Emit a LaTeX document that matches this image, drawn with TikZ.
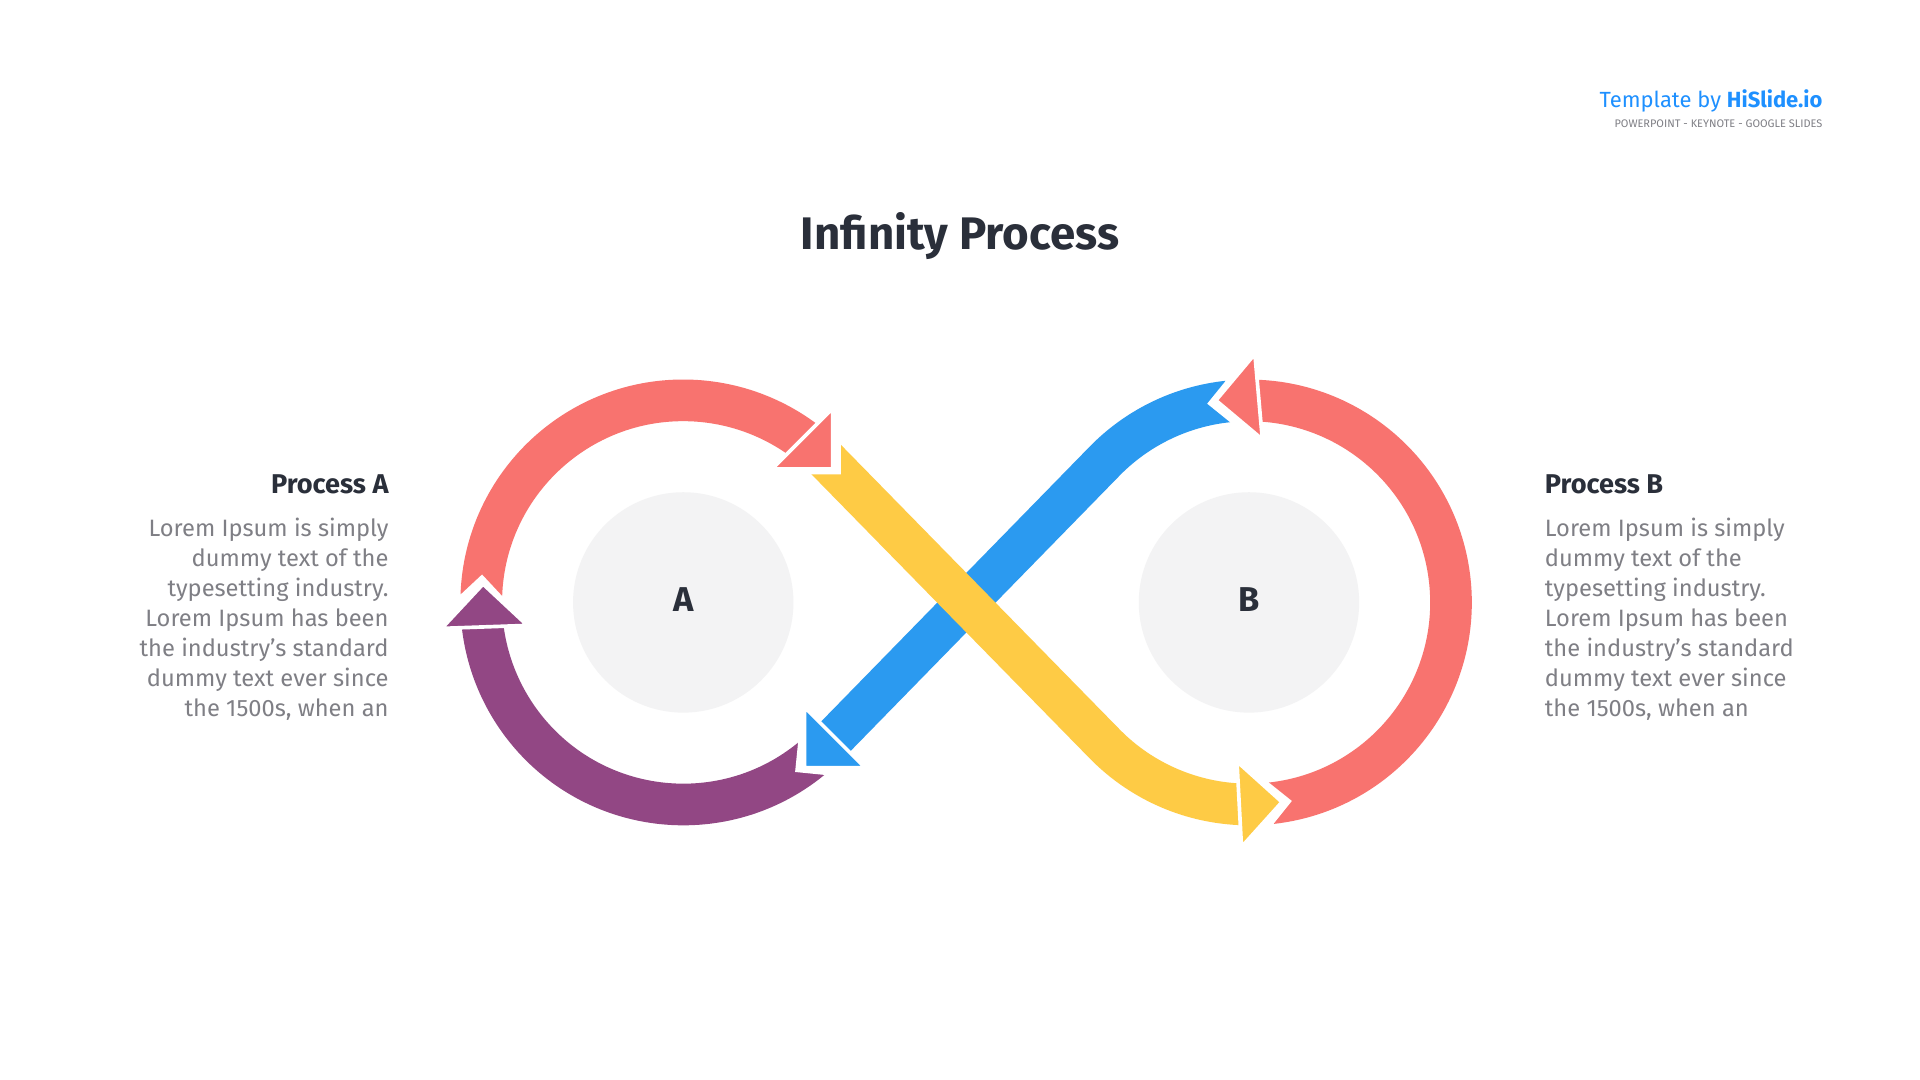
\documentclass[tikz,border=0pt]{standalone}
\usepackage{fontspec}
\setmainfont{Fira Sans}
\usetikzlibrary{calc}
\definecolor{cred}{HTML}{F8736F}
\definecolor{cyel}{HTML}{FECB45}
\definecolor{cblue}{HTML}{2B9AF0}
\definecolor{cpur}{HTML}{924784}
\definecolor{cgrey}{HTML}{F3F3F4}
\definecolor{cdark}{HTML}{2A2F3A}
\definecolor{ctext}{HTML}{7F7F85}
\definecolor{chis}{HTML}{1E90FF}
\tikzset{
  band/.style={line width=0.34cm},
  tipshape/.style={line width=0.03cm, draw=white, line join=miter},
  para/.style={font=\fontsize{5.5}{7}\selectfont, text=ctext, inner sep=0pt},
  head/.style={font=\fontsize{6.3}{7}\selectfont\bfseries, text=cdark, inner sep=0pt},
}
\newcommand{\tipat}[4]{\begin{scope}[shift={(#1,#2)},rotate=#3]\filldraw[tipshape,fill=#4] (0,0)--(-35,35)--(-35,-35)--cycle;\end{scope}}
\newcommand{\notchat}[3]{\begin{scope}[shift={(#1,#2)},rotate=#3]\fill[white] (-2,-19)--(17,0)--(-2,19)--cycle;\end{scope}}
\begin{document}
\begin{tikzpicture}[x=0.01cm,y=0.01cm]
\fill[white] (0,0) rectangle (1568,882);
\useasboundingbox (0,0) rectangle (1568,882);
\fill[cgrey] (558,390) circle (90);
\fill[cgrey] (1020,390) circle (90);
\node[font=\fontsize{8}{9}\selectfont\bfseries,text=cdark] (la) at (558,392) {A};
\node[font=\fontsize{8}{9}\selectfont\bfseries,text=cdark] (lb) at (1020,392) {B};
\draw[band,cred] (1038.1,226.0) arc (276.3:448.6:165);
\draw[band,cblue] (1002.8,554.1) arc (96:135:165) -- (679,277);
\draw[band,cyel] (674.7,506.7) -- (903.3,273.3) arc (225:268.6:165);
\draw[band,cred] (393.1,395.8) arc (178:52.6:165);
\draw[band,cpur] (662.5,262.3) arc (309.3:186:165);
\notchat{674.7}{506.7}{-45}
\notchat{1038.1}{226.0}{6.3}
\notchat{393.1}{395.8}{88}
\notchat{1002.8}{554.1}{186}
\notchat{662.5}{262.3}{219.3}
\tipat{993}{555}{185}{cred}
\tipat{657}{255}{225}{cblue}
\tipat{1047}{227}{3}{cyel}
\tipat{680}{499}{-45}{cred}
\tipat{394.5}{405}{92}{cpur}
\node[font=\fontsize{10.6}{13}\selectfont\bfseries,text=cdark] (title) at (784,689) {Infinity Process};
\node[anchor=base east,font=\fontsize{5.1}{6}\selectfont,text=chis,inner sep=0pt] (tpl) at (1489,794) {Template by \textbf{HiSlide.io}};
\node[anchor=north east,font=\fontsize{2.55}{3}\selectfont,text=ctext,inner sep=0pt] (sub) at (1489,785) {POWERPOINT - KEYNOTE - GOOGLE SLIDES};
\node[head,anchor=base east] (pa) at (318,479) {Process A};
\node[para,anchor=north east,align=right] (ta) at (318,460) {Lorem Ipsum is simply\\dummy text of the\\typesetting industry.\\Lorem Ipsum has been\\the industry's standard\\dummy text ever since\\the 1500s, when an};
\node[head,anchor=base west] (pb) at (1261,479) {Process B};
\node[para,anchor=north west,align=left] (tb) at (1261,460) {Lorem Ipsum is simply\\dummy text of the\\typesetting industry.\\Lorem Ipsum has been\\the industry's standard\\dummy text ever since\\the 1500s, when an};
\end{tikzpicture}
\end{document}
